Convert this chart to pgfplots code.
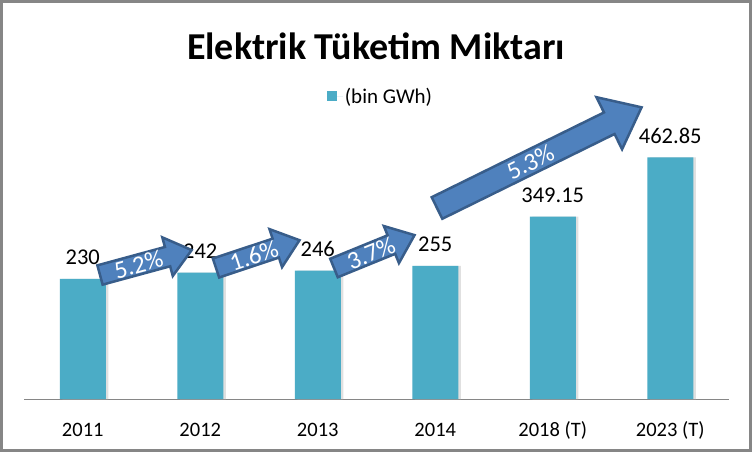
\documentclass[border=0pt]{standalone}
\usepackage{pgfplots}
\pgfplotsset{compat=1.18}
\usepackage{fontspec}
\setmainfont{Carlito}
\definecolor{barc}{HTML}{4BACC6}
\definecolor{arrf}{HTML}{4F81BD}
\definecolor{arrd}{HTML}{385D8A}
\definecolor{frm}{HTML}{868686}
% #1 x, #2 y, #3 angle, #4 headbase, #5 tip, #6 half body, #7 half head
\newcommand{\myarrow}[7]{%
\begin{scope}[shift={(#1bp,#2bp)},rotate=#3]
\filldraw[fill=arrf,draw=arrd,line width=2.5bp,line join=miter]
 (0bp,-#6bp) -- (#4bp,-#6bp) -- (#4bp,-#7bp) -- (#5bp,0bp) -- (#4bp,#7bp) -- (#4bp,#6bp) -- (0bp,#6bp) -- cycle;
\end{scope}}
% #1 x, #2 y, #3 angle, #4 pos along, #5 size, #6 text
\newcommand{\arrtext}[6]{%
\begin{scope}[shift={(#1bp,#2bp)},rotate=#3]
\node[text=white,font=\fontsize{#5bp}{#5bp}\selectfont,inner sep=0pt,rotate=#3] at (#4bp,0bp) {#6};
\end{scope}}
\begin{document}
\begin{tikzpicture}
\useasboundingbox (0,0) rectangle (752bp,452bp);
\fill[white] (0,0) rectangle (752bp,452bp);
\begin{axis}[
  at={(24bp,53bp)}, anchor=south west,
  scale only axis, width=705bp, height=261bp,
  xmin=-0.5, xmax=5.5, ymin=0, ymax=500,
  axis x line=bottom, axis y line=none,
  x axis line style={draw=frm, line width=0.8bp, -},
  xtick=data, xticklabels={2011,2012,2013,2014,2018 (T),2023 (T)},
  major tick length=0pt,
  xticklabel style={font=\fontsize{20.5bp}{22bp}\selectfont, anchor=base, yshift=-37bp},
  ytick=\empty,
  clip=false,
  legend style={draw=none, at={(0.5,1)}, anchor=center, yshift=41bp, xshift=4bp,
    font=\fontsize{21bp}{23bp}\selectfont, inner sep=0pt},
  legend image code/.code={\path (0bp,0bp) -- (16bp,0bp);\fill[barc] (0bp,-4bp) rectangle (10bp,6bp);},
]
\addplot[ybar, bar width=46bp, bar shift=2.5bp, fill=black!12, draw=none, forget plot]
  coordinates {(0,230) (1,242) (2,246) (3,255) (4,349.15) (5,462.85)};
\addplot[ybar, bar width=46bp, fill=barc, draw=none,
  point meta=explicit symbolic,
  nodes near coords, every node near coord/.append style={font=\fontsize{22.5bp}{24bp}\selectfont, text=black, inner sep=0pt, anchor=base, yshift=14bp}]
  coordinates {(0,230) [230] (1,242) [242] (2,246) [246] (3,255) [255] (4,349.15) [349.15] (5,462.85) [462.85]};
\addlegendentry{(bin GWh)}
\end{axis}
\myarrow{100}{177}{15.2}{70}{95}{10}{20}
\arrtext{100}{177}{15.2}{40}{25}{5.2\%}
\myarrow{216}{184}{18.4}{63}{88}{10}{20}
\arrtext{216}{184}{18.4}{40}{25}{1.6\%}
\myarrow{334}{184}{22.2}{62}{87}{10}{20}
\arrtext{334}{184}{22.2}{40}{25}{3.7\%}
\myarrow{437}{244}{26.2}{192}{228}{12}{29}
\arrtext{437}{244}{26.2}{104}{25}{5.3\%}
\node[font=\bfseries\fontsize{38bp}{40bp}\selectfont, anchor=base] at (376bp,392bp) {Elektrik Tüketim Miktarı};
\draw[frm, line width=3bp] (1.5bp,1.5bp) rectangle (750.5bp,450.5bp);
\end{tikzpicture}
\end{document}
